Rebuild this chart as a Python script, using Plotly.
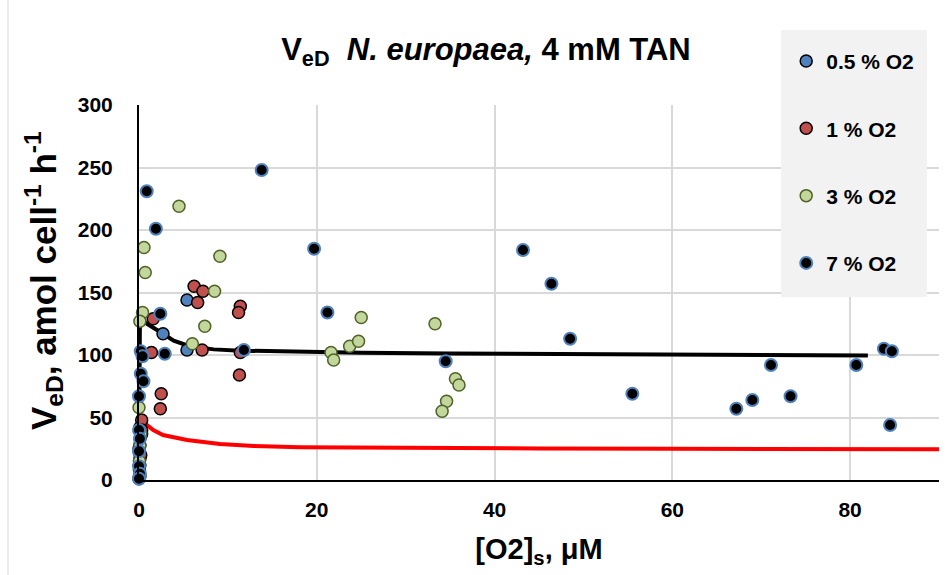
import plotly.graph_objects as go

# ---- data ----
o05_x = [5.4, 5.4, 2.7, 0.1, 0.2, 0.1, 0.05, 0.1, 0.05, 0.1, 0.0, 0.3, 0.1, 0.0]
o05_y = [144, 104, 117, 42, 35, 28, 22, 17, 8, 3, 1, 37, 12, 25]

o1_x = [6.2, 7.2, 6.6, 1.6, 1.4, 7.1, 11.4, 11.2, 11.4, 11.3, 2.5, 2.4, 0.3, 0.3, 0.2]
o1_y = [155, 151, 142, 129, 102, 104, 139, 134, 102, 84, 69, 57, 48, 40, 20]

o3_x = [4.5, 0.56, 0.7, 9.1, 8.5, 0.4, 0.1, 7.4, 6.0, 0.0, 0.2, 0.1, 0.05, 0.05,
        21.6, 21.9, 23.7, 24.7, 25.0, 33.3, 35.6, 36.0, 34.6, 34.1]
o3_y = [219, 186, 166, 179, 151, 134, 127, 123, 109, 58, 37, 28, 15, 3,
        102, 96, 107, 111, 130, 125, 81, 76, 63, 55]

o7_x = [13.8, 0.87, 1.9, 2.4, 11.8, 2.9, 0.2, 0.4, 0.2, 0.5, 0.0, 0.0, 0.1, 0.0, 0.0, 0.1, 0.0,
        19.7, 21.2, 34.5, 43.2, 46.4, 48.5, 55.5, 67.2, 69.0, 71.1, 73.3, 80.7, 83.8, 84.7, 84.5]
o7_y = [248, 231, 201, 133, 104, 101, 103, 99, 85, 79, 67, 40, 33, 23, 11, 5, 1,
        185, 134, 95, 184, 157, 113, 69, 57, 64, 92, 67, 92, 105, 103, 44]

fit_black_x = [0, 0.02, 0.05, 0.1, 0.3, 0.9, 2.7, 3.9, 5.7, 8.4, 11.4, 17, 25, 35, 50, 65, 82]
fit_black_y = [0, 60, 104, 125, 128, 125, 117, 111.5, 107, 104.5, 103.5, 102.7, 101.8, 101.2, 100.6, 100.1, 99.6]

fit_red_x = [0, 0.05, 0.2, 0.5, 0.9, 1.6, 2.7, 5.4, 9.1, 12.9, 18.1, 30, 45, 60, 75, 90]
fit_red_y = [0, 30, 42, 45, 44, 40, 36, 32, 28.8, 27.2, 26.2, 25.6, 25.2, 25.0, 24.8, 24.6]

series_names = ["0.5 % O2", "1 % O2", "3 % O2", "7 % O2"]
x_ticks = [0, 20, 40, 60, 80]
y_ticks = [0, 50, 100, 150, 200, 250, 300]

FONT = "Liberation Sans, Arial, sans-serif"

fig = go.Figure()
fig.add_trace(go.Scatter(x=fit_black_x, y=fit_black_y, mode="lines",
                         line=dict(color="black", width=4), showlegend=False,
                         hoverinfo="skip", cliponaxis=False))
fig.add_trace(go.Scatter(x=fit_red_x, y=fit_red_y, mode="lines",
                         line=dict(color="#ff0000", width=4), showlegend=False,
                         hoverinfo="skip", cliponaxis=False))

styles = [
    dict(color="#4f81bd", line=dict(color="black", width=1.5)),
    dict(color="#c0504d", line=dict(color="black", width=1.5)),
    dict(color="#c3d69b", line=dict(color="#4f6228", width=1.5)),
    dict(color="black", line=dict(color="#4f81bd", width=2)),
]
data = [(o05_x, o05_y), (o1_x, o1_y), (o3_x, o3_y), (o7_x, o7_y)]
for i, ((xs, ys), name, st) in enumerate(zip(data, series_names, styles)):
    fig.add_trace(go.Scatter(
        x=xs, y=ys, mode="markers", name="<b>" + name + "</b>",
        marker=dict(size=12, symbol="circle", **st),
        cliponaxis=False, legendgroup=str(i)))

fig.update_layout(
    width=951, height=575,
    margin=dict(l=139, r=12, t=105, b=95),
    paper_bgcolor="white", plot_bgcolor="white",
    font=dict(family=FONT, color="black"),
    title=dict(text="<b>V<sub>eD</sub>  <i>N. europaea,</i> 4 mM TAN</b>",
               x=0.511, xanchor="center", y=0.915, yanchor="middle",
               font=dict(size=31, family=FONT, color="black")),
    xaxis=dict(range=[0, 90], tickvals=x_ticks, ticktext=["<b>%d</b>" % v for v in x_ticks],
               showgrid=True, gridcolor="#d9d9d9", gridwidth=1.5,
               zeroline=False, showline=True, linecolor="black", linewidth=2,
               ticks="", ticklabelstandoff=10,
               tickfont=dict(size=21, family=FONT, color="black"),
               title=dict(text="<b>[O2]<sub>s</sub>, μM</b>", font=dict(size=29, family=FONT),
                          standoff=18)),
    yaxis=dict(range=[0, 300], tickvals=y_ticks, ticktext=["<b>%d</b>" % v for v in y_ticks],
               showgrid=True, gridcolor="#d9d9d9", gridwidth=1.5,
               zeroline=False, showline=True, linecolor="black", linewidth=2,
               ticks="", ticklabelstandoff=20,
               tickfont=dict(size=21, family=FONT, color="black")),
    annotations=[
        dict(text="<b>V<sub>eD</sub>, amol cell<sup>-1</sup> h<sup>-1</sup></b>",
             xref="paper", yref="paper", x=(43 - 139) / 800, y=(480 - 281) / 375,
             xanchor="center", yanchor="middle", textangle=-90, showarrow=False,
             font=dict(size=35, family=FONT, color="black")),
    ],
    legend=dict(x=0.809, xanchor="left", y=1.171, yanchor="top",
                bgcolor="rgba(0,0,0,0)", borderwidth=0,
                font=dict(size=21, family=FONT, color="black"),
                tracegroupgap=37, traceorder="grouped"),
    shapes=[
        dict(type="rect", xref="paper", yref="paper",
             x0=(781 - 139) / 800, x1=(927 - 139) / 800,
             y0=(480 - 297) / 375, y1=(480 - 30) / 375,
             fillcolor="#f2f2f2", line=dict(width=0), layer="above"),
        dict(type="line", xref="paper", yref="paper",
             x0=(8 - 139) / 800, x1=(8 - 139) / 800, y0=-95 / 375, y1=(480) / 375,
             line=dict(color="#d9d9d9", width=1)),
    ],
)

fig.write_html("out.html")
